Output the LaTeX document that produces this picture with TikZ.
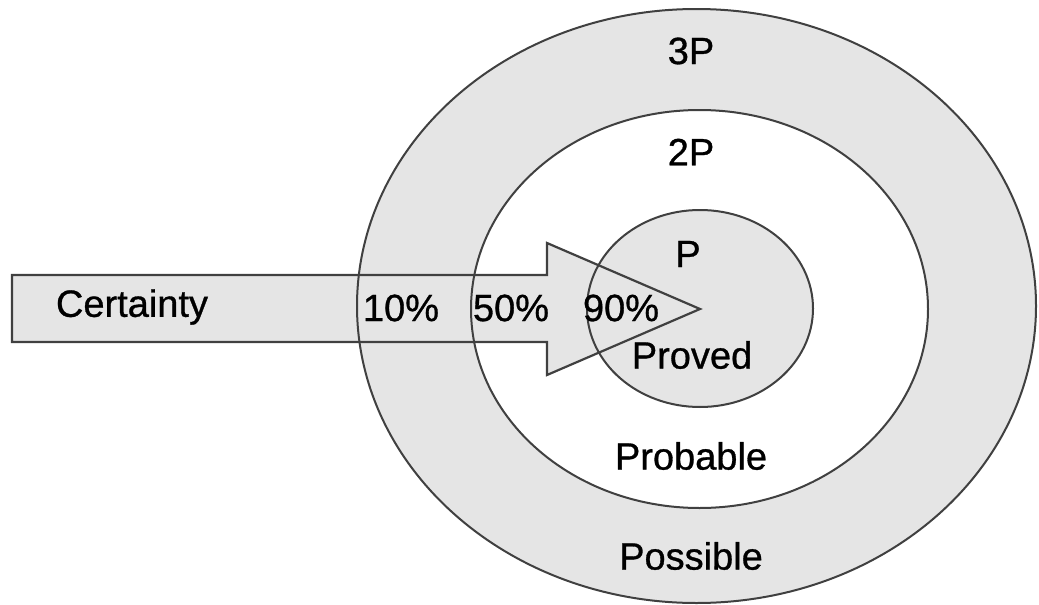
\documentclass[tikz,border=0pt]{standalone}
\usepackage{fontspec}
\setmainfont{Liberation Sans}
\newfontfamily\lblfont{Liberation Sans}[RawFeature={embolden=0.8}]
\begin{document}
\begin{tikzpicture}[x=1pt,y=-1pt,
  ring/.style={draw=black!75,line width=2pt},
  shade/.style={fill=black!10},
  lbl/.style={font=\lblfont\fontsize{38}{40}\selectfont,text=black,inner sep=0pt,anchor=center}]
\useasboundingbox (0,0) rectangle (1039,605);
% fills
\fill[shade] (696.5,306) ellipse [x radius=339.5,y radius=297];
\fill[white] (699.5,309) ellipse [x radius=228.5,y radius=199];
\fill[shade] (700,308.5) ellipse [x radius=113,y radius=98.5];
\fill[shade] (12,275) -- (547,275) -- (547,243) -- (700,309) -- (547,375) -- (547,342) -- (12,342) -- cycle;
% strokes
\draw[ring] (696.5,306) ellipse [x radius=339.5,y radius=297];
\draw[ring] (699.5,309) ellipse [x radius=228.5,y radius=199];
\draw[ring] (700,308.5) ellipse [x radius=113,y radius=98.5];
\draw[draw=black!75,line width=2.2pt,line join=miter] (12,275) -- (547,275) -- (547,243) -- (700,309) -- (547,375) -- (547,342) -- (12,342) -- cycle;
% labels
\node[lbl] (t3p) at (691,51) {3P};
\node[lbl] (t2p) at (691,152) {2P};
\node[lbl] (tp) at (688,254) {P};
\node[lbl] (tproved) at (692,355) {Proved};
\node[lbl] (tprobable) at (691,456) {Probable};
\node[lbl] (tpossible) at (691,556) {Possible};
\node[lbl] (tcert) at (132,307) {Certainty};
\node[lbl] (t10) at (401,308) {10\%};
\node[lbl] (t50) at (511,308) {50\%};
\node[lbl] (t90) at (621,308) {90\%};
\end{tikzpicture}
\end{document}
